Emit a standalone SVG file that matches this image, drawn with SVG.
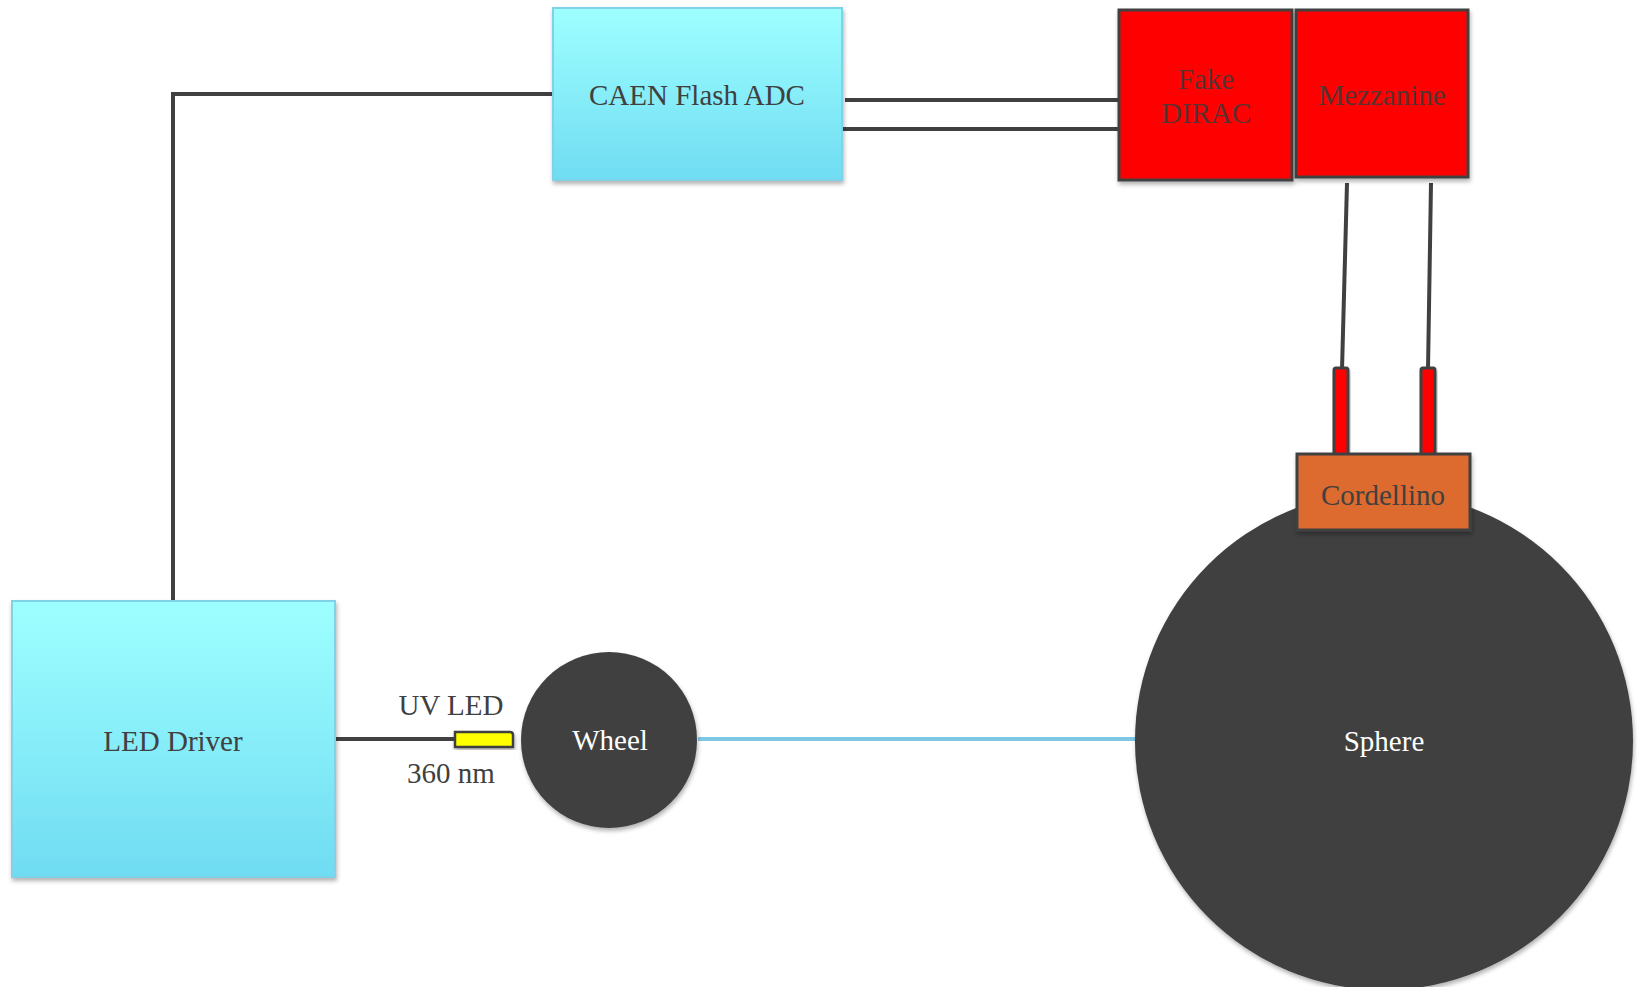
<svg xmlns="http://www.w3.org/2000/svg" width="1637" height="987" viewBox="0 0 1637 987">
<defs>
<linearGradient id="cyan" x1="0" y1="0" x2="0" y2="1">
<stop offset="0" stop-color="#9effff"/>
<stop offset="1" stop-color="#70dcf2"/>
</linearGradient>
<filter id="sh" x="-10%" y="-10%" width="130%" height="130%">
<feDropShadow dx="1" dy="3" stdDeviation="2" flood-color="#000" flood-opacity="0.3"/>
</filter>
<style>
.t{font-family:"Liberation Serif","Times New Roman",serif;font-size:29px;text-anchor:middle;fill:#404040}
.w{fill:#ffffff}
.r{fill:#5a3232}
.cy{fill:url(#cyan);stroke:#80d2e8;stroke-width:2}
.red{fill:#ff0000;stroke:#404040;stroke-width:3}
.ln{stroke:#404040;stroke-width:4;fill:none}
</style>
</defs>
<g id="connectors">
<polyline class="ln" points="173,601 173,94 553,94"/>
<line class="ln" x1="845" y1="100" x2="1119" y2="100"/>
<line class="ln" x1="842" y1="129" x2="1119" y2="129"/>
<line class="ln" x1="1347" y1="183" x2="1342" y2="370"/>
<line class="ln" x1="1431" y1="183" x2="1428" y2="370"/>
<line class="ln" x1="335" y1="739" x2="456" y2="739"/>
<line x1="698" y1="739" x2="1136" y2="739" stroke="#7ec8e3" stroke-width="4"/>
</g>
<g id="sphere">
<circle cx="1384" cy="741" r="249" fill="#404040" filter="url(#sh)"/>
<text class="t w" x="1384" y="751">Sphere</text>
</g>
<g id="caen">
<rect class="cy" x="553" y="8" width="289" height="172" filter="url(#sh)"/>
<text class="t" x="697" y="105">CAEN Flash ADC</text>
</g>
<g id="fake-dirac">
<rect class="red" x="1119" y="10" width="173" height="170" filter="url(#sh)"/>
<text class="t r" x="1206" y="89">Fake</text>
<text class="t r" x="1206" y="123">DIRAC</text>
</g>
<g id="mezzanine">
<rect class="red" x="1296" y="10" width="172" height="167" filter="url(#sh)"/>
<text class="t r" x="1382" y="105">Mezzanine</text>
</g>
<g id="tube1">
<rect class="red" x="1334" y="368" width="14" height="87" rx="2" filter="url(#sh)"/>
</g>
<g id="tube2">
<rect class="red" x="1421" y="368" width="14" height="87" rx="2" filter="url(#sh)"/>
</g>
<g id="cordellino">
<rect x="1297" y="454" width="173" height="76" fill="#dd6a2f" stroke="#404040" stroke-width="3" filter="url(#sh)"/>
<text class="t" x="1383" y="505">Cordellino</text>
</g>
<g id="led-driver">
<rect class="cy" x="12" y="601" width="323" height="276" filter="url(#sh)"/>
<text class="t" x="173" y="751">LED Driver</text>
</g>
<g id="uv-led">
<path d="M455,732 H510 Q513,732 513,735 V747 H455 Z" fill="#ffff00" stroke="#404040" stroke-width="2.5" filter="url(#sh)"/>
<text class="t" x="451" y="715">UV LED</text>
<text class="t" x="451" y="783">360 nm</text>
</g>
<g id="wheel">
<circle cx="609" cy="740" r="88" fill="#404040" filter="url(#sh)"/>
<text class="t w" x="610" y="750">Wheel</text>
</g>
</svg>
